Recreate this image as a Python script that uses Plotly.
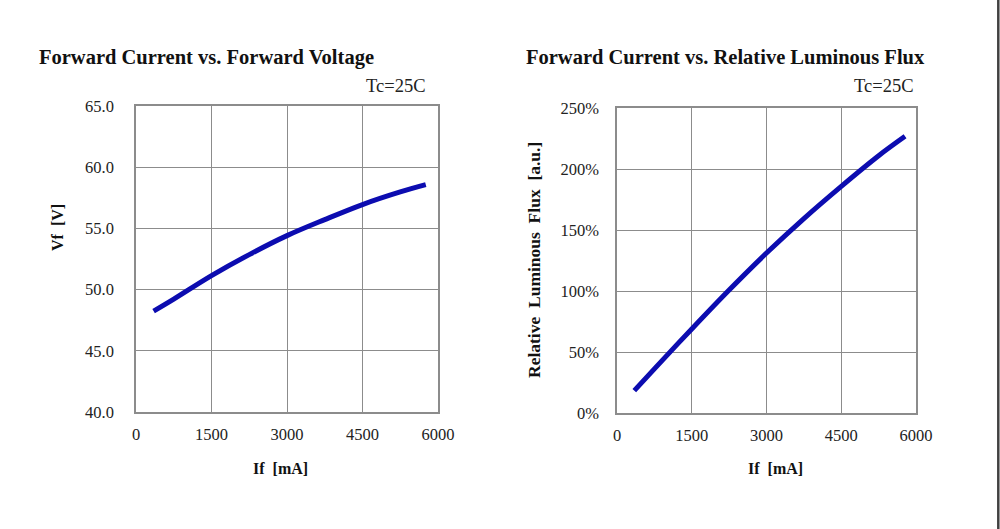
import plotly.graph_objects as go

# ---- data ----
vf_current_ma = [350, 750, 1500, 2250, 3000, 3750, 4500, 5250, 5757]
vf_voltage_v = [48.24, 49.22, 51.14, 52.86, 54.41, 55.72, 56.95, 57.98, 58.57]

flux_current_ma = [347, 750, 1500, 2250, 3000, 3750, 4500, 5250, 5780]
flux_relative_pct = [18.3, 36.2, 68.9, 100.8, 131.1, 159.4, 185.8, 210.9, 226.8]

x_ticks = [0, 1500, 3000, 4500, 6000]
vf_ticks = [40, 45, 50, 55, 60, 65]
vf_tick_text = ["40.0", "45.0", "50.0", "55.0", "60.0", "65.0"]
flux_ticks = [0, 50, 100, 150, 200, 250]
flux_tick_text = ["0%", "50%", "100%", "150%", "200%", "250%"]

W, H = 1000, 529
FONT = "Liberation Serif"
LINE_COLOR = "#0C0CB0"
GRID = "#8c8c8c"


def px_x(p):
    return p / W


def px_y(p):
    return 1 - p / H


fig = go.Figure()
fig.add_trace(go.Scatter(x=vf_current_ma, y=vf_voltage_v, mode="lines",
                         line=dict(color=LINE_COLOR, width=5, shape="spline"),
                         xaxis="x", yaxis="y", showlegend=False))
fig.add_trace(go.Scatter(x=flux_current_ma, y=flux_relative_pct, mode="lines",
                         line=dict(color=LINE_COLOR, width=5, shape="spline"),
                         xaxis="x2", yaxis="y2", showlegend=False))

axis_common = dict(showgrid=True, gridcolor=GRID, gridwidth=1,
                   showline=True, linecolor=GRID, linewidth=1.5, mirror=True,
                   zeroline=False, ticks="outside", tickcolor="rgba(0,0,0,0)",
                   automargin=False,
                   tickfont=dict(family=FONT, size=16.5, color="#222"))

fig.update_layout(
    template="none",
    width=W, height=H, autosize=False,
    margin=dict(l=0, r=0, t=0, b=0, pad=0),
    paper_bgcolor="white", plot_bgcolor="white",
    xaxis=dict(domain=[px_x(136), px_x(438)], range=[0, 6000], tickvals=x_ticks,
               ticktext=[str(v) for v in x_ticks], tickmode="array",
               ticklen=6, anchor="y", **axis_common),
    yaxis=dict(domain=[px_y(412), px_y(106)], range=[40, 65], tickvals=vf_ticks,
               ticktext=vf_tick_text, tickmode="array", ticklen=17, anchor="x", **axis_common),
    xaxis2=dict(domain=[px_x(617), px_x(916)], range=[0, 6000], tickvals=x_ticks,
                ticktext=[str(v) for v in x_ticks], tickmode="array",
                ticklen=6, anchor="y2", **axis_common),
    yaxis2=dict(domain=[px_y(413), px_y(108)], range=[0, 250], tickvals=flux_ticks,
                ticktext=flux_tick_text, tickmode="array", ticklen=13, anchor="x2",
                **axis_common),
)

annotations = [
    dict(text="<b>Forward Current vs. Forward Voltage</b>", x=px_x(37), y=px_y(57),
         xanchor="left", yanchor="middle", font=dict(family=FONT, size=20.5, color="#111")),
    dict(text="<b>Forward Current vs. Relative Luminous Flux</b>", x=px_x(524), y=px_y(57),
         xanchor="left", yanchor="middle", font=dict(family=FONT, size=20.5, color="#111")),
    dict(text="Tc=25C", x=px_x(428), y=px_y(86), xanchor="right", yanchor="middle",
         font=dict(family=FONT, size=18.5, color="#222")),
    dict(text="Tc=25C", x=px_x(916), y=px_y(86), xanchor="right", yanchor="middle",
         font=dict(family=FONT, size=18.5, color="#222")),
    dict(text="<b>If  [mA]</b>", x=px_x(280), y=px_y(468), xanchor="center", yanchor="middle",
         font=dict(family=FONT, size=16, color="#111")),
    dict(text="<b>If  [mA]</b>", x=px_x(775), y=px_y(468), xanchor="center", yanchor="middle",
         font=dict(family=FONT, size=16, color="#111")),
    dict(text="<b>Vf  [V]</b>", x=px_x(57), y=px_y(228), xanchor="center", yanchor="middle",
         textangle=-90, font=dict(family=FONT, size=16, color="#111")),
    dict(text="<b>Relative  Luminous  Flux  [a.u.]</b>", x=px_x(534), y=px_y(260),
         xanchor="center", yanchor="middle", textangle=-90,
         font=dict(family=FONT, size=17.5, color="#111")),
]
for a in annotations:
    a.update(xref="paper", yref="paper", showarrow=False)
fig.update_layout(annotations=annotations)

fig.add_shape(type="line", xref="paper", yref="paper", x0=0.9983, x1=0.9983,
              y0=0, y1=1, line=dict(color="#404040", width=2.5))

fig.write_html("out.html", config={"displayModeBar": False},
               post_script="document.body.style.margin='0';document.body.style.overflow='hidden';")
